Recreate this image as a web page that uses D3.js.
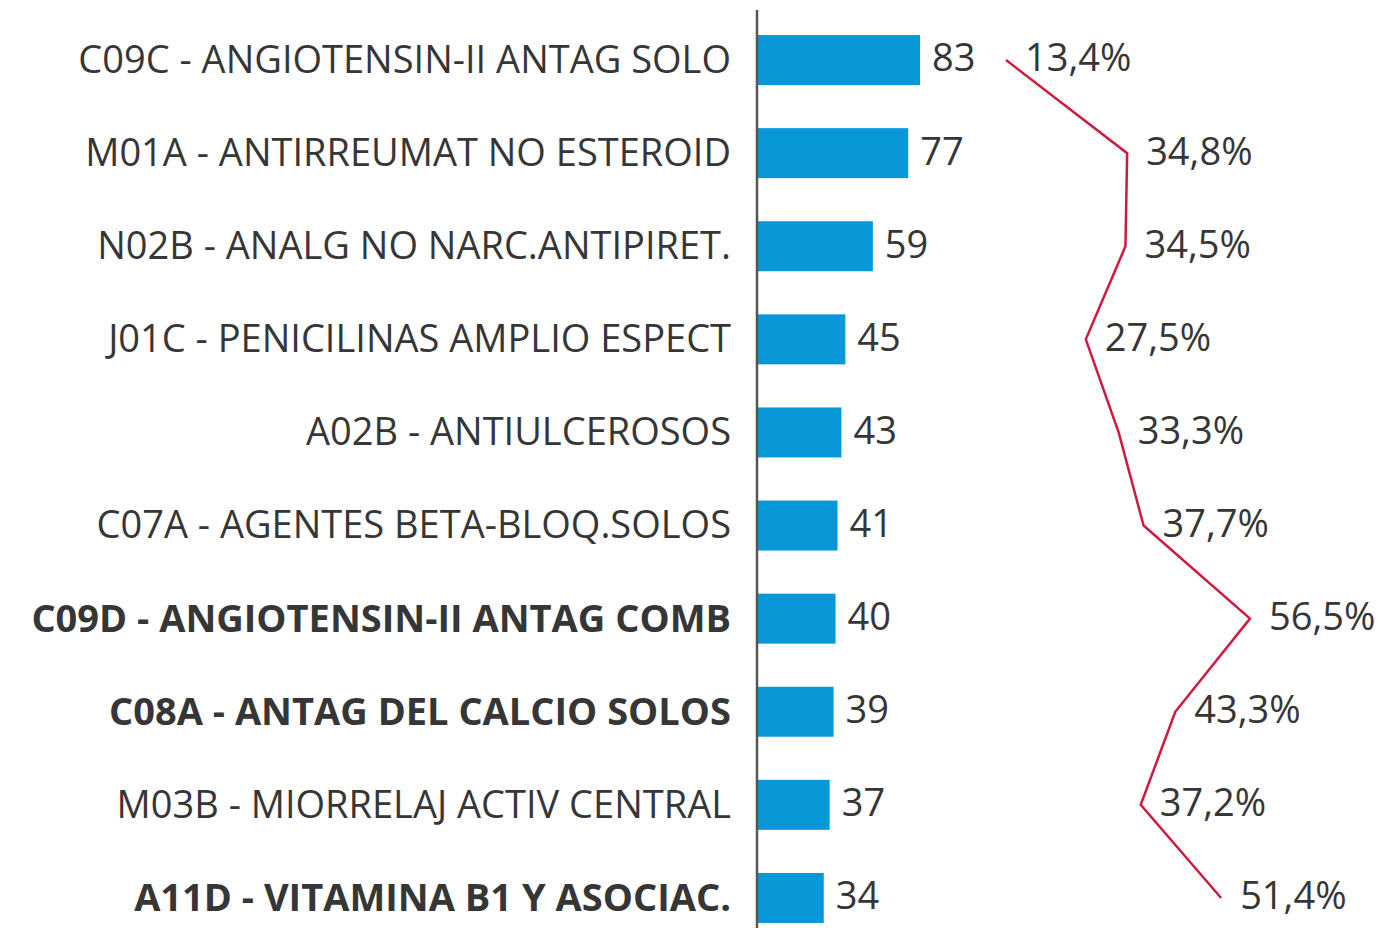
<!DOCTYPE html>
<html>
<head>
<meta charset="utf-8">
<script src="https://cdn.jsdelivr.net/npm/d3@7"></script>
<style>
  html, body { margin: 0; padding: 0; background: #fff; }
  svg { display: block; }
</style>
</head>
<body>
<div id="chart"></div>
<script>
const categories = [
  "C09C - ANGIOTENSIN-II ANTAG SOLO",
  "M01A - ANTIRREUMAT NO ESTEROID",
  "N02B - ANALG NO NARC.ANTIPIRET.",
  "J01C - PENICILINAS AMPLIO ESPECT",
  "A02B - ANTIULCEROSOS",
  "C07A - AGENTES BETA-BLOQ.SOLOS",
  "C09D - ANGIOTENSIN-II ANTAG COMB",
  "C08A - ANTAG DEL CALCIO SOLOS",
  "M03B - MIORRELAJ ACTIV CENTRAL",
  "A11D - VITAMINA B1 Y ASOCIAC."
];
const boldCategories = [
  "C09D - ANGIOTENSIN-II ANTAG COMB",
  "C08A - ANTAG DEL CALCIO SOLOS",
  "A11D - VITAMINA B1 Y ASOCIAC."
];
const values = [83, 77, 59, 45, 43, 41, 40, 39, 37, 34];
const shares = [13.4, 34.8, 34.5, 27.5, 33.3, 37.7, 56.5, 43.3, 37.2, 51.4];

const width = 1399;
const height = 928;
const fontFamily = "'Open Sans', 'Noto Sans', sans-serif";
const textColor = "#363636";
const fontSize = 38;

const data = categories.map((c, i) => ({
  name: c,
  value: values[i],
  share: shares[i],
  bold: boldCategories.includes(c),
}));

const y = d3
  .scaleBand()
  .domain(categories)
  .range([13.5, 944.5])
  .paddingInner(0.463)
  .paddingOuter(0.2315);

const x = d3.scaleLinear().domain([0, 83]).range([757, 920]);
const xShare = d3.scaleLinear().domain([13.4, 56.5]).range([1006, 1250]);

const svg = d3
  .select("#chart")
  .append("svg")
  .attr("width", width)
  .attr("height", height)
  .attr("viewBox", `0 0 ${width} ${height}`)
  .style("font-family", fontFamily);

// bars
svg
  .append("g")
  .selectAll("rect")
  .data(data)
  .join("rect")
  .attr("x", x(0))
  .attr("y", (d) => y(d.name))
  .attr("width", (d) => x(d.value) - x(0))
  .attr("height", y.bandwidth())
  .attr("fill", "#0898d8");

// category axis
svg
  .append("g")
  .attr("transform", `translate(${x(0)},0)`)
  .call(d3.axisLeft(y).tickSize(0).tickPadding(26))
  .call((g) => g.select(".domain").attr("d", `M0,10V${height}`).attr("stroke", "#555").attr("stroke-width", 2.5))
  .call((g) =>
    g
      .selectAll(".tick text")
      .attr("fill", textColor)
      .attr("font-family", fontFamily)
      .attr("font-size", fontSize)
      .attr("dy", "0.34em")
      .attr("font-weight", (d) => (boldCategories.includes(d) ? 700 : 400))
  );

// value labels
svg
  .append("g")
  .selectAll("text")
  .data(data)
  .join("text")
  .attr("x", (d) => x(d.value) + 12)
  .attr("y", (d) => y(d.name) + y.bandwidth() / 2)
  .attr("dy", "0.3em")
  .attr("fill", textColor)
  .attr("font-size", fontSize)
  .text((d) => d.value);

// share line
const line = d3
  .line()
  .x((d) => xShare(d.share))
  .y((d) => y(d.name) + y.bandwidth() / 2);

svg
  .append("path")
  .datum(data)
  .attr("fill", "none")
  .attr("stroke", "#cf1a3e")
  .attr("stroke-width", 2.5)
  .attr("stroke-linejoin", "miter")
  .attr("d", line);

// share labels with white halo
const fmt = (v) => v.toFixed(1).replace(".", ",") + "%";
svg
  .append("g")
  .selectAll("text")
  .data(data)
  .join("text")
  .attr("x", (d) => xShare(d.share) + 19)
  .attr("y", (d) => y(d.name) + y.bandwidth() / 2)
  .attr("dy", "0.3em")
  .attr("fill", textColor)
  .attr("font-size", fontSize)
  .attr("stroke", "#fff")
  .attr("stroke-width", 9)
  .attr("stroke-linejoin", "round")
  .attr("paint-order", "stroke")
  .text((d) => fmt(d.share));
</script>
</body>
</html>
